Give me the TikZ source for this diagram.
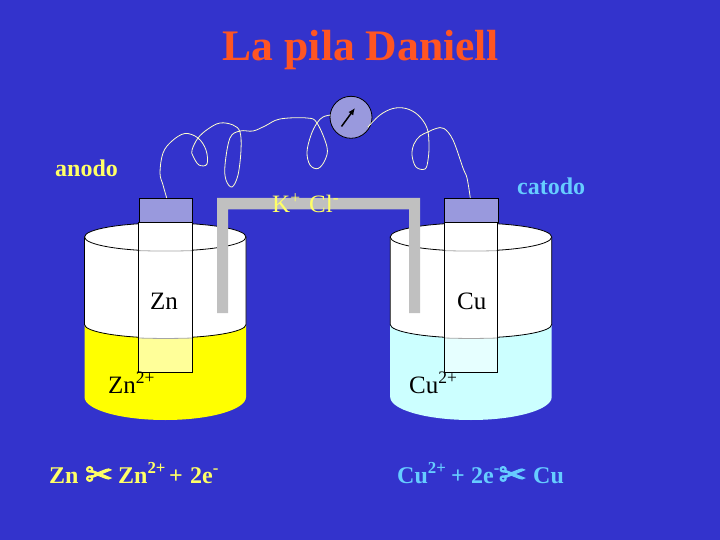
\documentclass[tikz,border=0pt]{standalone}
\usepackage{fontspec}
\usetikzlibrary{arrows.meta}
\setmainfont{Liberation Serif}
\newfontfamily\symfont[FakeBold=3]{DejaVu Sans}
\definecolor{bgblue}{HTML}{3333CC}
\definecolor{metal}{HTML}{9999DD}
\definecolor{wirecol}{HTML}{FFFFCC}
\definecolor{bridge}{HTML}{C0C0C0}
\definecolor{yel}{HTML}{FFFF66}
\definecolor{cyn}{HTML}{66CCFF}
\definecolor{orng}{HTML}{FF5522}
\definecolor{liqa}{HTML}{FFFF00}
\definecolor{liqb}{HTML}{CCFFFF}
\definecolor{elea}{HTML}{FFFF99}
\definecolor{eleb}{HTML}{E6FFFF}
\newcommand{\surfacearc}{(84.5,324.5) .. controls (84.5,331.9) and (120.6,338) .. (165.25,338) .. controls (209.9,338) and (246,331.9) .. (246,324.5)}
\newcommand{\beakerdraw}[4]{%
 % #1 x offset, #2 liquid colour, #3 electrode lower colour, #4 electrode left
 \begin{scope}[xshift=#1pt]
  \fill[white] (84.5,237) -- \surfacearc -- (246,237) -- cycle;
  \fill[#2] \surfacearc -- (246,397) .. controls (246,409.7) and (209.9,420) .. (165.25,420) .. controls (120.6,420) and (84.5,409.7) .. (84.5,397) -- cycle;
  \draw[black,line width=.8pt] (84.5,237) -- \surfacearc -- (246,237);
  \draw[black,line width=.8pt,fill=white] (165.25,237) ellipse[x radius=80.75,y radius=14];
  \fill[#3] (#4,338) rectangle ++(53.5,34.5);
  \fill[white] (#4,222.5) rectangle ++(53.5,115.5);
  \draw[gray!70,line width=.8pt] (#4,250.6) .. controls +(18,.6) and +(-18,.6) .. ++(53.5,0);
  \draw[gray!70,line width=.8pt] (#4,338) .. controls +(18,.6) and +(-18,.6) .. ++(53.5,0);
  \draw[black,line width=.8pt] (#4,222.5) -- (#4,372.5) -- ++(53.5,0) -- ++(0,-150);
 \end{scope}}
\tikzset{
  metaltop/.style={draw=black,line width=.8pt,fill=metal,minimum width=53.5pt,minimum height=24.5pt,inner sep=0pt,anchor=north west},
  wire/.style={draw=wirecol,line width=.8pt},
  lab/.style={inner sep=0pt,anchor=base west,font=\fontsize{25}{28}\selectfont},
  eqa/.style={inner sep=0pt,anchor=base west,font=\fontsize{24}{28}\selectfont\bfseries,text=yel},
  eqb/.style={inner sep=0pt,anchor=base west,font=\fontsize{24}{28}\selectfont\bfseries,text=cyn},
}
\begin{document}
\begin{tikzpicture}[x=1pt,y=-1pt]
\useasboundingbox (0,0) rectangle (720,540);
\fill[bgblue] (0,0) rectangle (720,540);

\node[inner sep=0pt,anchor=base,text=orng,font=\fontsize{43.6}{48}\selectfont\bfseries] (title) at (361,61) {La pila Daniell};

% beakers
\beakerdraw{0}{liqa}{elea}{138.8}
\beakerdraw{305.7}{liqb}{eleb}{138.6}

% electrodes tops
\node[metaltop] (zntop) at (138.8,198) {};
\node[metaltop] (cutop) at (444.3,198) {};

% salt bridge
\fill[bridge] (217,313) -- (217,198) -- (420,198) -- (420,313) -- (409,313) -- (409,209.5) -- (228,209.5) -- (228,313) -- cycle;

% meter
\node[circle,draw=black,line width=.8pt,fill=metal,minimum size=42pt,inner sep=0pt] (meter) at (351,117.3) {};
\coordinate (needleA) at (341.5,126.5);
\coordinate (needleB) at (355,108);
\draw[-{Latex[length=7pt,width=6pt]},line width=1.5pt,black] (needleA) -- (needleB);

% wires
\coordinate (wireZn) at (166.7,198);
\coordinate (wireCu) at (470.3,198);
\coordinate (wireMl) at (330.5,115);
\coordinate (wireMr) at (368,127);
\draw[wire] plot[smooth,tension=.6] coordinates {(wireZn) (163,185) (160,173) (163,153) (172,141) (185,133.5) (198,138) (206,150) (207,164) (199,165) (193,156) (192,150) (198,138) (208,129) (220,123) (233,125) (240,132) (241,150) (238,175) (232,187) (226,180) (225,165) (230,138) (240,131) (253,131) (265,126) (280,119) (307,118) (317,123) (327,147) (325,160) (318,168.5) (310,165) (307,152) (311,135) (317,123) (323,117) (wireMl)};
\draw[wire] plot[smooth,tension=.6] coordinates {(wireMr) (380,115) (393,108.5) (406,108.5) (418,115) (427,128) (429,145) (428,160) (425,169) (416,167) (412,155) (414,144) (420,136) (428,132) (436,128.5) (444,128.5) (453,140) (463,168) (467,178) (wireCu)};

% labels
\node[lab,text=yel,font=\fontsize{24}{28}\selectfont\bfseries] (anodo) at (55,177) {anodo};
\node[lab,text=cyn,font=\fontsize{24}{28}\selectfont\bfseries] (catodo) at (517,195) {catodo};
\node[lab,text=yel] (kplus) at (272,213) {K\textsuperscript{+}};
\node[lab,text=yel] (clminus) at (309,213) {Cl\textsuperscript{-}};
\node[lab] (zn) at (150,309) {Zn};
\node[lab] (cu) at (457,309) {Cu};
\node[lab] (zn2) at (108,393) {Zn\textsuperscript{2+}};
\node[lab] (cu2) at (409,393) {Cu\textsuperscript{2+}};

% equations
\node[eqa] (e1) at (49,483) {Zn};
\node[eqa,font=\fontsize{33}{28}\selectfont\symfont] (e2) at (85,486) {✂};
\node[eqa] (e3) at (118,483) {Zn\textsuperscript{2+}};
\node[eqa] (e4) at (169,483) {+};
\node[eqa] (e5) at (190,483) {2e\textsuperscript{-}};
\node[eqb] (f1) at (397,483) {Cu\textsuperscript{2+}};
\node[eqb] (f2) at (451,483) {+};
\node[eqb] (f3) at (471,483) {2e\textsuperscript{-}};
\node[eqb,font=\fontsize{33}{28}\selectfont\symfont] (f4) at (498.5,486) {✂};
\node[eqb] (f5) at (533,483) {Cu};
\end{tikzpicture}
\end{document}
